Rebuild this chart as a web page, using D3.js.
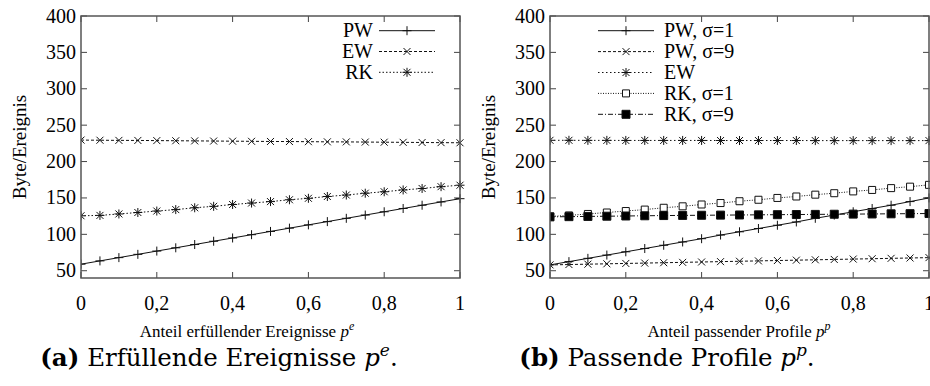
<!DOCTYPE html>
<html>
<head>
<meta charset="utf-8">
<script src="https://cdn.jsdelivr.net/npm/d3@7"></script>
<style>
  body { margin: 0; background: #fff; }
  svg text { font-family: "Liberation Serif", "Tinos", "Times New Roman", "DejaVu Serif", serif; fill: #000; }
  svg text.caption { font-family: "DejaVu Serif", "Liberation Serif", serif; }
</style>
</head>
<body>
<div id="chart"></div>
<script>
// x positions (share of events / profiles)
const shares = [0, 0.05, 0.1, 0.15, 0.2, 0.25, 0.3, 0.35, 0.4, 0.45, 0.5,
  0.55, 0.6, 0.65, 0.7, 0.75, 0.8, 0.85, 0.9, 0.95, 1]
const xTicks = [0, 0.2, 0.4, 0.6, 0.8, 1]
const yTicks = [50, 100, 150, 200, 250, 300, 350, 400]

// (a) Erfuellende Ereignisse
const pwA = [59, 63.5, 68, 72.5, 77, 81.5, 86, 90.5, 95, 99.5, 104,
  108.5, 113, 117.5, 122, 126.5, 131, 135.5, 140, 144.5, 149]
const ewA = [229.5, 229.3, 229.1, 229, 228.8, 228.6, 228.4, 228.2, 228, 227.8, 227.6,
  227.5, 227.3, 227.1, 227, 226.8, 226.6, 226.4, 226.2, 226, 225.8]
const rkA = [125.5, 126, 128, 130, 132, 134, 136.5, 138.5, 141, 143, 145,
  147.5, 149.5, 152, 154, 156.5, 158.5, 161, 163, 165.5, 167.5]

// (b) Passende Profile
const pw1B = [58, 62.5, 67, 71.5, 76, 80.5, 85, 89.5, 94, 99, 103.5,
  108, 112.5, 117, 122, 126.5, 131, 135.5, 140, 145, 150]
const pw9B = [58, 58.5, 59, 59.5, 60, 60.5, 61, 61.5, 62, 62.5, 63,
  63.5, 64, 64.5, 65, 65.5, 66, 66.5, 67, 67.5, 68]
const ewB = [229.2, 229.2, 229.1, 229.1, 229, 229, 229, 229, 229, 228.9, 228.9,
  228.9, 228.9, 228.9, 228.8, 228.8, 228.8, 228.8, 228.8, 228.8, 228.8]
const rk1B = [124.5, 126, 128, 130, 132, 134, 136.5, 138.5, 141, 143, 145.5,
  147.5, 150, 152, 154.5, 156.5, 159, 161, 163.5, 165.5, 168]
const rk9B = [124, 124.3, 124.6, 124.9, 125.2, 125.5, 125.8, 126, 126.2, 126.4, 126.6,
  126.8, 127, 127.2, 127.4, 127.6, 127.8, 128, 128.2, 128.4, 128.6]

const W = 930
const H = 386
const svg = d3.select('#chart').append('svg')
  .attr('width', W)
  .attr('height', H)

const fmt = d => String(d).replace('.', ',')

// marker shapes
const marker = (g, kind, cx, cy) => {
  const p = d3.path()
  if (kind === 'plus' || kind === 'star') {
    p.moveTo(cx - 4.5, cy); p.lineTo(cx + 4.5, cy)
    p.moveTo(cx, cy - 4.5); p.lineTo(cx, cy + 4.5)
  }
  if (kind === 'cross' || kind === 'star') {
    p.moveTo(cx - 3.5, cy - 3.5); p.lineTo(cx + 3.5, cy + 3.5)
    p.moveTo(cx - 3.5, cy + 3.5); p.lineTo(cx + 3.5, cy - 3.5)
  }
  if (kind === 'box' || kind === 'fbox') {
    const s = kind === 'box' ? 3.5 : 4
    p.rect(cx - s, cy - s, 2 * s, 2 * s)
  }
  g.append('path')
    .attr('d', p.toString())
    .attr('fill', kind === 'fbox' ? '#000' : (kind === 'box' ? '#fff' : 'none'))
    .attr('stroke', '#111')
    .attr('stroke-width', 1)
}

const drawPanel = (opts) => {
  const { left, right, series, legend, xTitle, xTitleX, caption, captionX } = opts
  const top = 16
  const bottom = 278
  const x = d3.scaleLinear().domain([0, 1]).range([left, right])
  const y = d3.scaleLinear().domain([40, 400]).range([bottom, top])
  const g = svg.append('g')

  const clipId = 'clip' + left
  svg.append('clipPath').attr('id', clipId)
    .append('rect')
    .attr('x', left).attr('y', top - 6)
    .attr('width', right - left + 6).attr('height', bottom - top + 12)

  // ticks, inward on all sides
  const tk = g.append('g').attr('stroke', '#444').attr('stroke-width', 1)
  yTicks.forEach(v => {
    tk.append('line').attr('x1', left).attr('x2', left + 6).attr('y1', y(v)).attr('y2', y(v))
    tk.append('line').attr('x1', right).attr('x2', right - 6).attr('y1', y(v)).attr('y2', y(v))
    g.append('text')
      .attr('x', left - 5)
      .attr('y', y(v) + 6.5)
      .attr('text-anchor', 'end')
      .attr('font-size', 20)
      .text(v)
  })
  xTicks.forEach(v => {
    tk.append('line').attr('x1', x(v)).attr('x2', x(v)).attr('y1', bottom).attr('y2', bottom - 6)
    tk.append('line').attr('x1', x(v)).attr('x2', x(v)).attr('y1', top).attr('y2', top + 6)
    g.append('text')
      .attr('x', x(v))
      .attr('y', 310)
      .attr('text-anchor', 'middle')
      .attr('font-size', 20)
      .text(fmt(v))
  })

  // series lines and markers
  const line = d3.line().x((d, i) => x(shares[i])).y(d => y(d))
  const plot = g.append('g').attr('clip-path', `url(#${clipId})`)
  series.forEach(s => {
    plot.append('path')
      .datum(s.values)
      .attr('d', line)
      .attr('fill', 'none')
      .attr('stroke', '#111')
      .attr('stroke-width', 1)
      .attr('stroke-dasharray', s.dash)
    s.values.forEach((v, i) => marker(plot, s.marker, x(shares[i]), y(v)))
  })

  // frame
  g.append('rect')
    .attr('x', left).attr('y', top)
    .attr('width', right - left).attr('height', bottom - top)
    .attr('fill', 'none')
    .attr('stroke', '#555')
    .attr('stroke-width', 1.5)

  // legend
  series.forEach((s, i) => {
    const ly = legend.y0 + i * legend.step
    g.append('line')
      .attr('x1', legend.x1).attr('x2', legend.x2)
      .attr('y1', ly).attr('y2', ly)
      .attr('stroke', '#111')
      .attr('stroke-width', 1)
      .attr('stroke-dasharray', s.dash)
    marker(g, s.marker, (legend.x1 + legend.x2) / 2, ly)
    g.append('text')
      .attr('x', legend.tx)
      .attr('y', ly + 6.5)
      .attr('text-anchor', legend.anchor)
      .attr('font-size', 20)
      .text(s.name)
  })

  // y axis title
  g.append('text')
    .attr('transform', `translate(${left - 55},${(top + bottom) / 2}) rotate(-90)`)
    .attr('text-anchor', 'middle')
    .attr('font-size', 19)
    .text('Byte/Ereignis')

  // x axis title
  const xt = g.append('text')
    .attr('x', xTitleX)
    .attr('y', 337)
    .attr('text-anchor', 'middle')
    .attr('font-size', 17)
  xt.append('tspan').text(xTitle.text)
  xt.append('tspan').attr('font-style', 'italic').text('p')
  xt.append('tspan').attr('font-style', 'italic').attr('font-size', 12).attr('dy', -7).text(xTitle.sup)

  // caption
  const ct = g.append('text')
    .attr('class', 'caption')
    .attr('x', captionX)
    .attr('y', 366)
    .attr('text-anchor', 'middle')
    .attr('font-size', 24.5)
  ct.append('tspan').attr('font-weight', 'bold').text(caption.label)
  ct.append('tspan').text(' ' + caption.text + ' ')
  ct.append('tspan').attr('font-style', 'italic').text('p')
  ct.append('tspan').attr('font-style', 'italic').attr('font-size', 17).attr('dy', -10).text(caption.sup)
  ct.append('tspan').attr('dy', 10).text('.')
}

drawPanel({
  left: 81,
  right: 460,
  series: [
    { name: 'PW', values: pwA, marker: 'plus', dash: null },
    { name: 'EW', values: ewA, marker: 'cross', dash: '3,2' },
    { name: 'RK', values: rkA, marker: 'star', dash: '1.5,2' }
  ],
  legend: { x1: 379, x2: 435, tx: 373, anchor: 'end', y0: 30.7, step: 20.8 },
  xTitle: { text: 'Anteil erfüllender Ereignisse ', sup: 'e' },
  xTitleX: 247,
  caption: { label: '(a)', text: 'Erfüllende Ereignisse', sup: 'e' },
  captionX: 219
})

drawPanel({
  left: 550,
  right: 929,
  series: [
    { name: 'PW, σ=1', values: pw1B, marker: 'plus', dash: null },
    { name: 'PW, σ=9', values: pw9B, marker: 'cross', dash: '3,2' },
    { name: 'EW', values: ewB, marker: 'star', dash: '1.5,2.5' },
    { name: 'RK, σ=1', values: rk1B, marker: 'box', dash: '1,1.5' },
    { name: 'RK, σ=9', values: rk9B, marker: 'fbox', dash: '5,2,1,2' }
  ],
  legend: { x1: 598, x2: 654, tx: 664, anchor: 'start', y0: 30.7, step: 20.9 },
  xTitle: { text: 'Anteil passender Profile ', sup: 'p' },
  xTitleX: 739,
  caption: { label: '(b)', text: 'Passende Profile', sup: 'p' },
  captionX: 667
})
</script>
</body>
</html>
